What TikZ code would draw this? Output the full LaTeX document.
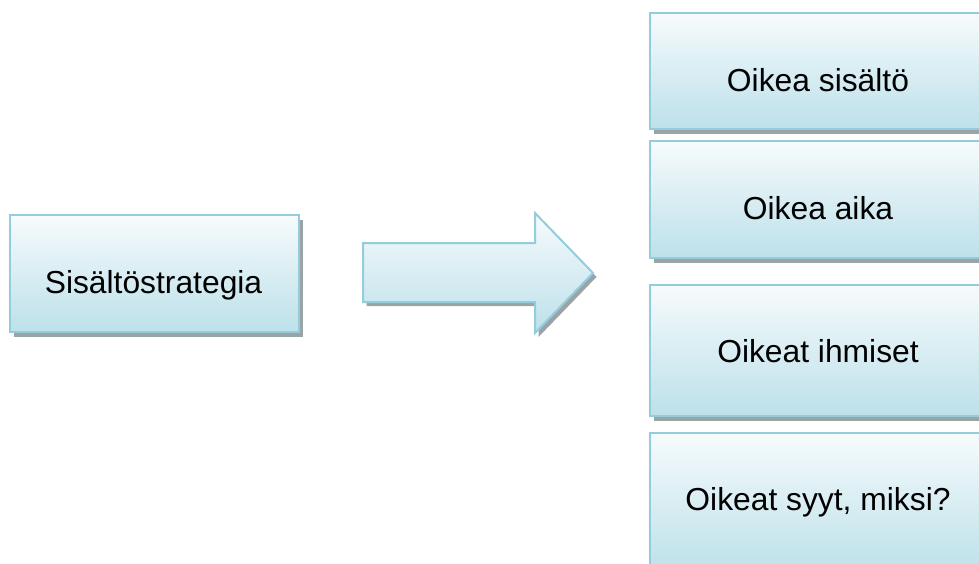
\documentclass[tikz,border=0pt]{standalone}
\usepackage{fontspec}
\setmainfont{Liberation Sans}
\definecolor{edgeblue}{HTML}{93CDDD}
\definecolor{fillblue}{HTML}{B7DEE8}
\definecolor{shadowgray}{HTML}{9AA4A5}
\pgfdeclareverticalshading{boxshade}{100bp}{color(0bp)=(fillblue); color(20bp)=(fillblue); color(55bp)=(fillblue!45!white); color(82bp)=(white); color(100bp)=(white)}
\tikzset{
  blockbox/.style={draw=edgeblue, line width=2pt, shading=boxshade, rectangle, inner sep=0pt, anchor=north west,
    preaction={fill=shadowgray, transform canvas={shift={(3.5pt,-5pt)}}}},
  blocktext/.style={anchor=base, inner sep=0pt, font=\fontsize{31.8pt}{38pt}\selectfont, text=black},
}
\begin{document}
\begin{tikzpicture}[x=1pt, y=-1pt]
\useasboundingbox (0,0) rectangle (979,563);
% left box
\node[blockbox, minimum width=289pt, minimum height=117pt] (src) at (9,214) {};
\node[blocktext] (srct) at (153.5,293) {Sisältöstrategia};
% arrow
\coordinate (ar) at (363,243);
\draw[draw=edgeblue, line width=2pt, shading=boxshade,
  preaction={fill=shadowgray, transform canvas={shift={(3.5pt,-4pt)}}}]
  (ar) -- (535,243) -- (535,213) -- (593,273) -- (535,333) -- (535,302) -- (363,302) -- cycle;
% right boxes
\node[blockbox, minimum width=338pt, minimum height=116pt] (r1) at (649,12) {};
\node[blocktext] (r1t) at (818,91) {Oikea sisältö};
\node[blockbox, minimum width=338pt, minimum height=117pt] (r2) at (649,140) {};
\node[blocktext] (r2t) at (818,219) {Oikea aika};
\node[blockbox, minimum width=338pt, minimum height=131pt] (r3) at (649,284) {};
\node[blocktext] (r3t) at (818,362) {Oikeat ihmiset};
\node[blockbox, minimum width=338pt, minimum height=140pt] (r4) at (649,432) {};
\node[blocktext] (r4t) at (818,510) {Oikeat syyt, miksi?};
\end{tikzpicture}
\end{document}
